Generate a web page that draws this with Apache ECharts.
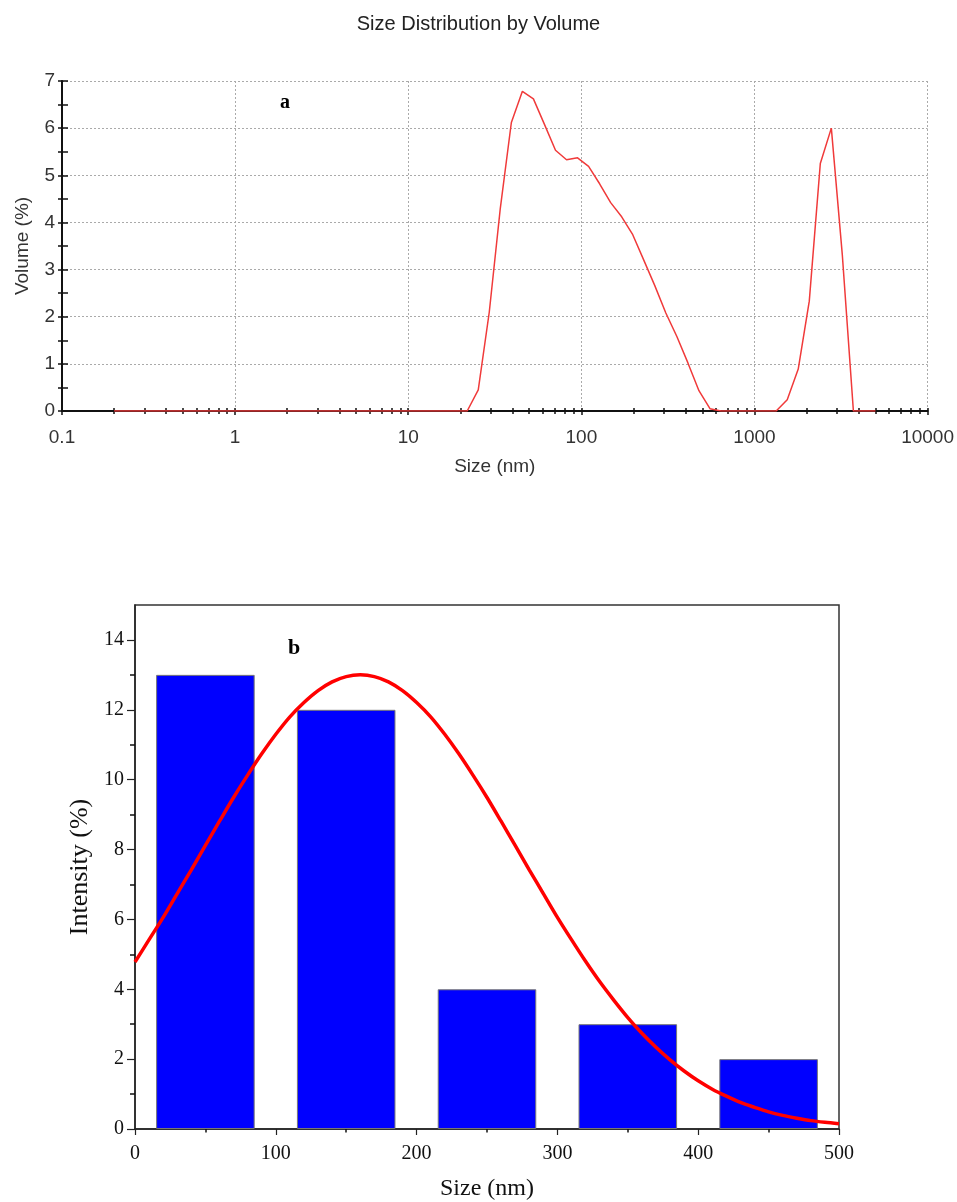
<!DOCTYPE html>
<html lang="en">

<head>
    <meta charset="UTF-8">
    <title>Size Distribution</title>
    <script src="https://cdn.jsdelivr.net/npm/echarts@6/dist/echarts.min.js"></script>
    <style>
        body {
            margin: 0;
            background: #fff;
        }
    </style>
</head>

<body>
    <div id="chart" style="width:957px;height:1202px;"></div>
    <script>
        // (a) volume distribution, log size classes
        const sizeClasses = [0.2, 0.2316, 0.2683, 0.3107, 0.3598, 0.4167, 0.4826, 0.5589, 0.6472, 0.7496,
            0.868, 1.005, 1.164, 1.348, 1.561, 1.808, 2.094, 2.424, 2.808, 3.252,
            3.766, 4.361, 5.05, 5.849, 6.773, 7.844, 9.083, 10.52, 12.18, 14.11,
            16.34, 18.92, 21.91, 25.38, 29.39, 34.03, 39.42, 45.65, 52.86, 61.22,
            70.9, 82.11, 95.08, 110.1, 127.5, 147.7, 171.0, 198.1, 229.4, 265.6,
            307.6, 356.2, 412.6, 477.8, 553.3, 640.8, 742.1, 859.4, 995.2, 1152,
            1335, 1546, 1790, 2073, 2401, 2780, 3219, 3728, 4318, 5000];
        const volumePct = [0, 0, 0, 0, 0, 0, 0, 0, 0, 0,
            0, 0, 0, 0, 0, 0, 0, 0, 0, 0,
            0, 0, 0, 0, 0, 0, 0, 0, 0, 0,
            0, 0, 0, 0.45, 2.1, 4.3, 6.12, 6.78, 6.62, 6.08,
            5.53, 5.33, 5.37, 5.19, 4.82, 4.42, 4.12, 3.74, 3.20, 2.66,
            2.08, 1.58, 1.02, 0.43, 0.05, 0, 0, 0, 0, 0,
            0, 0.24, 0.89, 2.33, 5.25, 6.0, 3.3, 0, 0, 0];
        const logTickValues = [0.1, 0.2, 0.3, 0.4, 0.5, 0.6, 0.7, 0.8, 0.9,
            1, 2, 3, 4, 5, 6, 7, 8, 9,
            10, 20, 30, 40, 50, 60, 70, 80, 90,
            100, 200, 300, 400, 500, 600, 700, 800, 900,
            1000, 2000, 3000, 4000, 5000, 6000, 7000, 8000, 9000, 10000];
        const volumeTickValues = [0, 0.5, 1, 1.5, 2, 2.5, 3, 3.5, 4, 4.5, 5, 5.5, 6, 6.5, 7];

        // (b) intensity histogram and fitted curve
        const binCenters = [50, 150, 250, 350, 450];
        const binIntensity = [13, 12, 4, 3, 2];
        const fitSize = [0, 10, 20, 30, 40, 50, 60, 70, 80, 90,
            100, 110, 120, 130, 140, 150, 160, 170, 180, 190,
            200, 210, 220, 230, 240, 250, 260, 270, 280, 290,
            300, 310, 320, 330, 340, 350, 360, 370, 380, 390,
            400, 410, 420, 430, 440, 450, 460, 470, 480, 490, 500];
        const fitIntensity = [4.78, 5.42, 6.06, 6.74, 7.42, 8.12, 8.81, 9.49, 10.13, 10.74,
            11.30, 11.80, 12.21, 12.55, 12.80, 12.95, 13.00, 12.95, 12.80, 12.55,
            12.21, 11.80, 11.30, 10.74, 10.13, 9.49, 8.81, 8.12, 7.42, 6.74,
            6.06, 5.42, 4.80, 4.22, 3.69, 3.19, 2.74, 2.34, 1.98, 1.66,
            1.38, 1.14, 0.94, 0.76, 0.62, 0.49, 0.39, 0.31, 0.24, 0.19, 0.15];
        const intensityMajor = [0, 2, 4, 6, 8, 10, 12, 14];
        const intensityMinor = [1, 3, 5, 7, 9, 11, 13];
        const sizeMinor = [50, 150, 250, 350, 450];

        const sans = 'Liberation Sans';
        const serif = 'Liberation Serif';
        const gridB = { left: 135, top: 605, width: 704, height: 525 };
        const binWidth = 70;
        const axisDark = { color: '#111', width: 1.5 };

        // extra axes that only carry tick marks
        function tickOnlyX(gridIndex, type, min, max, values, inside, length) {
            return {
                gridIndex: gridIndex, type: type, min: min, max: max, position: 'bottom',
                axisLine: { show: false },
                axisTick: { inside: inside, length: length, customValues: values, lineStyle: axisDark },
                axisLabel: { show: false },
                splitLine: { show: false }
            };
        }
        function tickOnlyY(gridIndex, min, max, values, inside, length) {
            return {
                gridIndex: gridIndex, type: 'value', min: min, max: max, position: 'left',
                axisLine: { show: false },
                axisTick: { inside: inside, length: length, customValues: values, lineStyle: axisDark },
                axisLabel: { show: false },
                splitLine: { show: false }
            };
        }

        let chart = echarts.init(document.getElementById('chart'), null, { renderer: 'canvas' });

        let option = {
            animation: false,
            title: {
                text: 'Size Distribution by Volume',
                left: 'center',
                top: 9,
                textStyle: { fontFamily: sans, fontSize: 20, fontWeight: 'normal', color: '#222' }
            },
            graphic: [{
                type: 'text', left: 280, top: 93,
                style: { text: 'a', font: 'bold 20px "Liberation Serif"', fill: '#000' }
            }, {
                type: 'text', left: 288, top: 637,
                style: { text: 'b', font: 'bold 22px "Liberation Serif"', fill: '#000' }
            }],
            grid: [
                { left: 62, top: 81, width: 867, height: 330 },
                {
                    left: gridB.left, top: gridB.top, width: gridB.width, height: gridB.height,
                    show: true, borderColor: '#333', borderWidth: 1.5
                }
            ],
            xAxis: [{
                gridIndex: 0,
                type: 'log',
                logBase: 10,
                min: 0.1,
                max: 10000,
                position: 'bottom',
                name: 'Size (nm)',
                nameLocation: 'middle',
                nameGap: 46,
                nameTextStyle: { fontFamily: sans, fontSize: 19, color: '#333' },
                axisLine: { lineStyle: { color: '#111', width: 2 } },
                axisTick: { length: 4, lineStyle: axisDark },
                axisLabel: {
                    margin: 17, fontFamily: sans, fontSize: 19, color: '#333',
                    formatter: v => String(v)
                },
                splitLine: { show: true, lineStyle: { color: '#aaa', type: [2, 2] } }
            },
            tickOnlyX(0, 'log', 0.1, 10000, logTickValues, true, 3),
            tickOnlyX(0, 'log', 0.1, 10000, logTickValues, false, 3),
            {
                gridIndex: 1,
                type: 'value',
                min: 0,
                max: 500,
                interval: 100,
                position: 'bottom',
                name: 'Size (nm)',
                nameLocation: 'middle',
                nameGap: 48,
                nameTextStyle: { fontFamily: serif, fontSize: 24, color: '#111' },
                axisLine: { onZero: false, lineStyle: { color: '#222', width: 1.5 } },
                axisTick: { length: 6, lineStyle: { color: '#222', width: 1.2 } },
                axisLabel: { margin: 15, fontFamily: serif, fontSize: 20, color: '#111' },
                splitLine: { show: false }
            },
            tickOnlyX(1, 'value', 0, 500, sizeMinor, false, 3.5)
            ],
            yAxis: [{
                gridIndex: 0,
                type: 'value',
                min: 0,
                max: 7,
                interval: 1,
                position: 'left',
                name: 'Volume (%)',
                nameLocation: 'middle',
                nameGap: 30,
                nameTextStyle: { fontFamily: sans, fontSize: 19, color: '#333' },
                axisLine: { show: true, lineStyle: { color: '#111', width: 2 } },
                axisTick: { length: 4, lineStyle: axisDark },
                axisLabel: { margin: 7, fontFamily: sans, fontSize: 19, color: '#333' },
                splitLine: { show: true, lineStyle: { color: '#aaa', type: [2, 2] } }
            },
            tickOnlyY(0, 0, 7, volumeTickValues, true, 6),
            tickOnlyY(0, 0, 7, volumeTickValues, false, 4),
            {
                gridIndex: 1,
                type: 'value',
                min: 0,
                max: 15,
                position: 'left',
                name: 'Intensity (%)',
                nameLocation: 'middle',
                nameGap: 40,
                nameTextStyle: { fontFamily: serif, fontSize: 26, color: '#111' },
                axisLine: { show: true, onZero: false, lineStyle: { color: '#222', width: 1.5 } },
                axisTick: { length: 8, customValues: intensityMajor, lineStyle: { color: '#222', width: 1.2 } },
                axisLabel: { margin: 11, customValues: intensityMajor, fontFamily: serif, fontSize: 20, color: '#111' },
                splitLine: { show: false }
            },
            tickOnlyY(1, 0, 15, intensityMinor, false, 5)
            ],
            series: [{
                type: 'line',
                xAxisIndex: 0,
                yAxisIndex: 0,
                data: sizeClasses.map((s, i) => [s, volumePct[i]]),
                symbol: 'none',
                lineStyle: { color: '#f03a3a', width: 1.5 }
            }, {
                type: 'bar',
                xAxisIndex: 3,
                yAxisIndex: 3,
                data: binCenters.map((c, i) => [c, binIntensity[i]]),
                barWidth: binWidth * gridB.width / 500,
                itemStyle: { color: '#0000ff', borderColor: '#777', borderWidth: 1 }
            }, {
                type: 'line',
                xAxisIndex: 3,
                yAxisIndex: 3,
                data: fitSize.map((s, i) => [s, fitIntensity[i]]),
                smooth: 0.3,
                symbol: 'none',
                z: 5,
                lineStyle: { color: '#ff0000', width: 3.5 }
            }]
        };
        chart.setOption(option);
    </script>
</body>

</html>
